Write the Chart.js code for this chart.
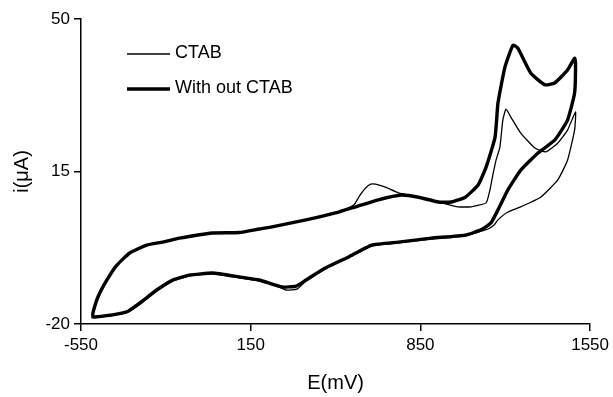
<!DOCTYPE html>
<html><head><meta charset="utf-8">
<script src="https://cdn.jsdelivr.net/npm/chart.js@4/dist/chart.umd.min.js"></script>
<style>html,body{margin:0;padding:0;background:#fff}#wrap{width:613px;height:397px;position:relative}</style>
</head><body><div id="wrap"><canvas id="c" width="613" height="397"></canvas></div>
<script>
const xTicks = [-550, 150, 850, 1550];
const yTicks = [-20, 15, 50];
const seriesNames = ['CTAB', 'With out CTAB'];

// Without CTAB (thick) – potential (mV) and current (µA), closed loop
const woE = [-501,-501,-480,-443,-402,-349,-279,-213,-144,-8,
  103,185,238,378,513,583,677,772,842,924,
  977,1035,1088,1121,1158,1170,1199,1232,1252,1305,
  1363,1404,1457,1486,1490,1486,1457,1404,1334,1264,
  1211,1170,1141,1100,1035,895,760,649,554,460,
  378,337,279,185,103,-8,-103,-172,-238,-308,
  -361,-419,-493,-501];
const woI = [-18.4,-17.5,-13.8,-9.9,-6.5,-3.7,-1.9,-1.2,-0.3,0.9,
  1.0,1.8,2.3,3.9,5.7,6.9,8.5,9.6,9.1,8.0,
  8.0,9.1,11.9,16.0,22.9,30.7,39.0,44.0,43.3,37.6,
  34.9,35.3,38.3,41.0,39.9,33.0,26.8,22.2,19.2,15.3,
  10.8,6.2,3.2,1.6,0.4,-0.3,-1.2,-1.9,-4.6,-7.1,
  -9.9,-11.3,-11.5,-9.9,-9.2,-8.3,-8.8,-9.9,-12.2,-15.2,
  -17.2,-17.9,-18.4,-18.4];

// CTAB (thin)
const ctabE = [-499,-499,-479,-442,-401,-348,-278,-212,-143,-7,
  104,186,239,379,514,575,599,624,645,665,
  706,760,842,924,1006,1059,1121,1137,1149,1162,
  1178,1190,1203,1223,1264,1322,1367,1416,1457,1490,
  1486,1457,1416,1346,1264,1211,1170,1154,1129,1100,
  1035,895,760,649,554,460,378,341,296,267,
  185,103,-8,-103,-172,-238,-308,-361,-419,-493,
  -499];
const ctabI = [-18.4,-17.5,-13.8,-9.9,-6.5,-3.7,-1.9,-1.2,-0.3,0.9,
  1.0,1.8,2.3,3.9,5.7,7.3,9.4,11.2,12.1,12.1,
  11.4,10.1,9.1,8.0,6.9,6.9,7.8,10.8,14.2,17.6,
  20.6,26.8,29.3,27.5,23.8,20.4,19.5,21.5,24.5,28.7,
  24.5,17.6,13.0,9.1,6.9,5.7,3.9,2.7,1.8,1.3,
  0.2,-0.5,-1.4,-2.1,-4.8,-7.3,-10.1,-12.0,-12.2,-11.5,
  -10.1,-9.4,-8.5,-9.0,-10.2,-12.5,-15.5,-17.4,-18.0,-18.5,
  -18.4];

const pts = (xs, ys) => xs.map((x, i) => ({x: x, y: ys[i]}));
const FONT = "'Liberation Sans', Arial, Helvetica, sans-serif";

const legendPlugin = {
  id: 'insideLegend',
  afterDraw(chart) {
    const ctx = chart.ctx;
    ctx.save();
    ctx.strokeStyle = '#000';
    ctx.lineCap = 'butt';
    ctx.fillStyle = '#000';
    ctx.font = '18px ' + FONT;
    ctx.textBaseline = 'middle';
    ctx.textAlign = 'left';
    const items = [
      {w: 1.3, y: 54, ty: 53},
      {w: 3.3, y: 89, ty: 88}
    ];
    items.forEach((it, k) => {
      ctx.lineWidth = it.w;
      ctx.beginPath();
      ctx.moveTo(127, it.y);
      ctx.lineTo(170, it.y);
      ctx.stroke();
      ctx.fillText(seriesNames[k], 175, it.ty);
    });
    ctx.restore();
  }
};

new Chart(document.getElementById('c'), {
  type: 'scatter',
  data: {
    datasets: [
      {label: seriesNames[1], data: pts(woE, woI), showLine: true, borderColor: '#000',
       borderWidth: 3.4, pointRadius: 0, tension: 0.15, borderJoinStyle: 'round', borderCapStyle: 'round', fill: false},
      {label: seriesNames[0], data: pts(ctabE, ctabI), showLine: true, borderColor: '#000',
       borderWidth: 1.3, pointRadius: 0, tension: 0.15, borderJoinStyle: 'round', fill: false}
    ]
  },
  options: {
    responsive: false,
    animation: false,
    devicePixelRatio: 1,
    layout: {padding: {top: 19, right: 21, left: 0, bottom: 0}},
    plugins: {legend: {display: false}, tooltip: {enabled: false}},
    scales: {
      x: {
        type: 'linear', min: -550, max: 1550,
        afterBuildTicks: s => { s.ticks = xTicks.map(v => ({value: v})); },
        afterFit: s => { s.height = 73; },
        grid: {display: true, drawOnChartArea: false, drawTicks: true, tickLength: 7, color: '#000', lineWidth: 1.5},
        border: {display: true, color: '#000', width: 1.5},
        ticks: {color: '#000', font: {family: FONT, size: 17}, padding: 4, maxRotation: 0, autoSkip: false,
                callback: v => String(v)},
        title: {display: true, text: 'E(mV)', color: '#000', font: {family: FONT, size: 20}, padding: {top: 4, bottom: 2}}
      },
      y: {
        type: 'linear', min: -20, max: 50,
        afterBuildTicks: s => { s.ticks = yTicks.map(v => ({value: v})); },
        afterFit: s => { s.width = 81; },
        grid: {display: true, drawOnChartArea: false, drawTicks: true, tickLength: 7, color: '#000', lineWidth: 1.5},
        border: {display: true, color: '#000', width: 1.5},
        ticks: {color: '#000', font: {family: FONT, size: 17}, padding: 4, autoSkip: false,
                callback: v => String(v)},
        title: {display: true, text: 'i(μA)', color: '#000', font: {family: FONT, size: 20}, padding: {top: 10, bottom: 4}}
      }
    }
  },
  plugins: [legendPlugin]
});
</script>
</body></html>
